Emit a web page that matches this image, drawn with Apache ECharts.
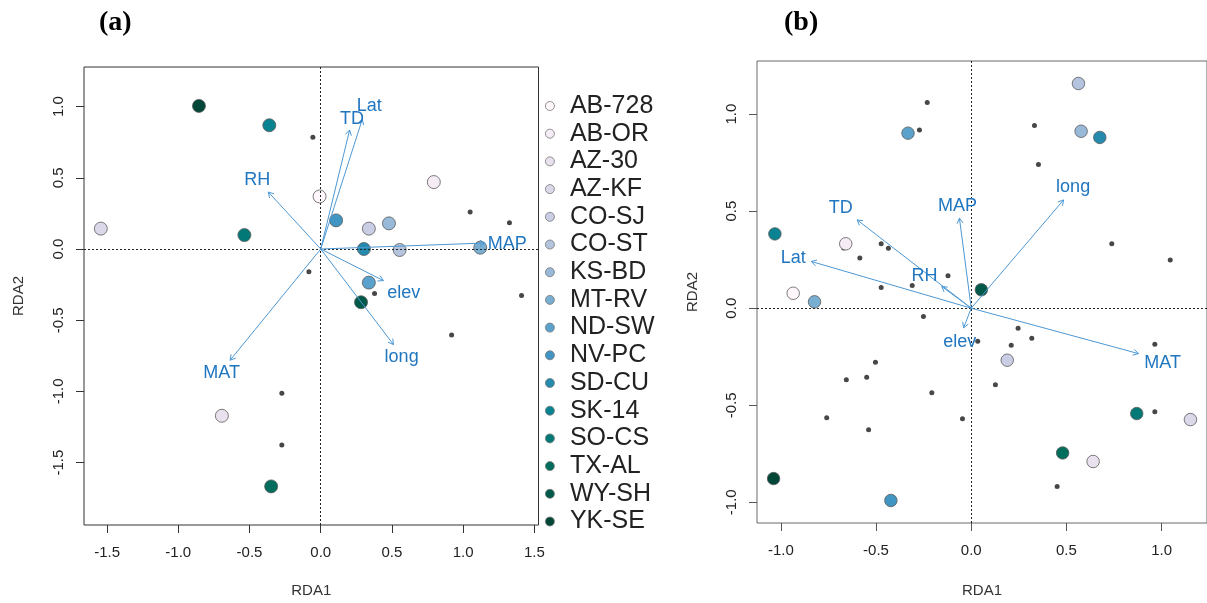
<!DOCTYPE html>
<html>
<head>
<meta charset="utf-8">
<title>RDA biplots</title>
<script src="https://cdn.jsdelivr.net/npm/echarts@6/dist/echarts.min.js"></script>
<style>
  html, body { margin: 0; padding: 0; background: #fff; }
  #chart { width: 1207px; height: 603px; }
</style>
</head>
<body>
<div id="chart"></div>
<script>
// Populations, in legend order
const popNames = ['AB-728', 'AB-OR', 'AZ-30', 'AZ-KF', 'CO-SJ', 'CO-ST', 'KS-BD', 'MT-RV',
                  'ND-SW', 'NV-PC', 'SD-CU', 'SK-14', 'SO-CS', 'TX-AL', 'WY-SH', 'YK-SE'];

// Panel (a): population scores on RDA1 / RDA2
const popA_x = [-0.008, 0.794, -0.694, -1.544, 0.338, 0.554, 0.479, 1.120,
                0.338, 0.108, 0.303, -0.361, -0.536, -0.348, 0.283, -0.855];
const popA_y = [0.369, 0.470, -1.171, 0.143, 0.143, -0.007, 0.180, 0.009,
                -0.236, 0.201, 0.000, 0.869, 0.098, -1.667, -0.374, 1.005];

// Panel (b): population scores on RDA1 / RDA2
const popB_x = [-0.935, -0.659, 0.640, 1.151, 0.189, 0.563, 0.577, -0.823,
                -0.332, -0.422, 0.675, -1.031, 0.869, 0.480, 0.053, -1.038];
const popB_y = [0.077, 0.332, -0.790, -0.574, -0.268, 1.158, 0.912, 0.033,
                0.902, -0.991, 0.880, 0.383, -0.543, -0.746, 0.095, -0.878];

// Small grey points (response scores)
const sppA_x = [-0.055, 1.049, 1.325, -0.083, 0.378, 1.410, 0.919, -0.273, -0.273];
const sppA_y = [0.784, 0.259, 0.184, -0.159, -0.313, -0.327, -0.603, -1.012, -1.376];

const sppB_x = [-0.231, -0.272, 0.332, 0.353, -0.473, -0.435, 0.738, -0.585, 1.045, -0.122,
                -0.473, -0.310, -0.251, -0.670, 0.034, 0.246, 0.210, 0.318, 0.964, -0.503,
                -0.656, -0.549, -0.207, 0.127, -0.759, -0.046, -0.539, 0.964, 0.451];
const sppB_y = [1.060, 0.918, 0.942, 0.741, 0.332, 0.309, 0.332, 0.259, 0.249, 0.167,
                0.107, 0.117, -0.043, 0.310, -0.170, -0.103, -0.191, -0.155, -0.186, -0.278,
                -0.369, -0.356, -0.436, -0.395, -0.565, -0.570, -0.627, -0.534, -0.919];

// Environmental vectors: arrow tips and label anchors (data units)
const envNames = ['Lat', 'TD', 'RH', 'MAP', 'elev', 'long', 'MAT'];
const envA_x   = [0.292, 0.203, -0.368, 1.154, 0.440, 0.511, -0.636];
const envA_y   = [0.911, 0.836, 0.400, 0.042, -0.222, -0.671, -0.781];
const envA_lx  = [0.341, 0.220, -0.446, 1.310, 0.583, 0.568, -0.696];
const envA_ly  = [1.006, 0.915, 0.481, 0.037, -0.308, -0.757, -0.874];

const envB_x   = [-0.840, -0.599, -0.155, -0.062, -0.040, 0.485, 0.878];
const envB_y   = [0.241, 0.455, 0.112, 0.464, -0.101, 0.558, -0.234];
const envB_lx  = [-0.935, -0.685, -0.246, -0.072, -0.060, 0.535, 1.005];
const envB_ly  = [0.256, 0.515, 0.165, 0.524, -0.175, 0.624, -0.280];

// Axis ticks
const ticksA_x = [-1.5, -1.0, -0.5, 0.0, 0.5, 1.0, 1.5];
const ticksA_y = [-1.5, -1.0, -0.5, 0.0, 0.5, 1.0];
const ticksB_x = [-1.0, -0.5, 0.0, 0.5, 1.0];
const ticksB_y = [-1.0, -0.5, 0.0, 0.5, 1.0];

// PuBuGn ramp stretched to 16 colours
const brewerStops = [[255,247,251],[236,226,240],[208,209,230],[166,189,219],[103,169,207],
                     [54,144,192],[2,129,138],[1,108,89],[1,70,54]];
function ramp(n) {
  const out = [];
  for (let i = 0; i < n; i++) {
    const t = i * (brewerStops.length - 1) / (n - 1);
    const k = Math.min(Math.floor(t), brewerStops.length - 2);
    const f = t - k;
    const c = brewerStops[k].map((v, j) => Math.round(v + (brewerStops[k + 1][j] - v) * f));
    out.push('rgb(' + c.join(',') + ')');
  }
  return out;
}
const popColors = ramp(popNames.length);

const FONT = 'Liberation Sans, Arial, sans-serif';
const arrowColor = '#4d98d4';
const arrowText = '#2176c0';

function zip(xs, ys) { return xs.map((x, i) => [x, ys[i]]); }

function axisX(gi, min, max, ticks, lineColor) {
  return {
    type: 'value', gridIndex: gi, min: min, max: max,
    name: 'RDA1', nameLocation: 'middle', nameGap: gi === 0 ? 58 : 60,
    nameTextStyle: { fontFamily: FONT, fontSize: 15, color: '#333' },
    splitLine: { show: false },
    axisLine: { show: false, onZero: false },
    axisTick: { show: true, customValues: ticks, length: 8, lineStyle: { color: lineColor } },
    axisLabel: { customValues: ticks, formatter: v => v.toFixed(1), margin: 20,
                 fontFamily: FONT, fontSize: 15, color: '#222' }
  };
}
function axisY(gi, min, max, ticks, lineColor) {
  return {
    type: 'value', gridIndex: gi, min: min, max: max,
    name: 'RDA2', nameLocation: 'middle', nameGap: gi === 0 ? 58 : 57,
    nameTextStyle: { fontFamily: FONT, fontSize: 15, color: '#333' },
    splitLine: { show: false },
    axisLine: { show: false, onZero: false },
    axisTick: { show: true, customValues: ticks, length: 8, lineStyle: { color: lineColor } },
    axisLabel: { customValues: ticks, formatter: v => v.toFixed(1), margin: 18, rotate: 90,
                 fontFamily: FONT, fontSize: 15, color: '#222' }
  };
}

function zeroLines(gi) {
  return {
    type: 'scatter', xAxisIndex: gi, yAxisIndex: gi, data: [], silent: true, z: 1,
    markLine: {
      silent: true, symbol: 'none', animation: false,
      label: { show: false },
      lineStyle: { type: [2, 2], color: '#222', width: 1 },
      data: [{ xAxis: 0 }, { yAxis: 0 }]
    }
  };
}

function greyDots(gi, xs, ys) {
  return {
    type: 'scatter', xAxisIndex: gi, yAxisIndex: gi, silent: true, z: 2,
    symbolSize: 5, itemStyle: { color: '#474747', opacity: 1 },
    data: zip(xs, ys)
  };
}

function envArrows(gi, xs, ys, lxs, lys) {
  return {
    type: 'custom', xAxisIndex: gi, yAxisIndex: gi, silent: true, z: 5,
    data: xs.map((x, i) => [x, ys[i], lxs[i], lys[i]]),
    renderItem: function (params, api) {
      const o = api.coord([0, 0]);
      const t = api.coord([api.value(0), api.value(1)]);
      const l = api.coord([api.value(2), api.value(3)]);
      const ang = Math.atan2(t[1] - o[1], t[0] - o[0]);
      const h = 6, s = Math.PI / 6;
      const p1 = [t[0] - h * Math.cos(ang - s), t[1] - h * Math.sin(ang - s)];
      const p2 = [t[0] - h * Math.cos(ang + s), t[1] - h * Math.sin(ang + s)];
      return {
        type: 'group',
        children: [
          { type: 'line', shape: { x1: o[0], y1: o[1], x2: t[0], y2: t[1] },
            style: { stroke: arrowColor, lineWidth: 1 } },
          { type: 'polyline', shape: { points: [p1, t, p2] },
            style: { stroke: arrowColor, fill: null, lineWidth: 1 } },
          { type: 'text', x: l[0], y: l[1],
            style: { text: envNames[params.dataIndex], fill: arrowText,
                     font: '18px ' + FONT, align: 'center', verticalAlign: 'middle' } }
        ]
      };
    }
  };
}

const series = [zeroLines(0), zeroLines(1),
                greyDots(0, sppA_x, sppA_y), greyDots(1, sppB_x, sppB_y)];

popNames.forEach((name, i) => {
  const style = { color: popColors[i], borderColor: '#5a5a5a', borderWidth: 0.8, opacity: 1 };
  series.push({ type: 'scatter', name: name, xAxisIndex: 0, yAxisIndex: 0, z: 3,
                symbolSize: 13, itemStyle: style, data: [[popA_x[i], popA_y[i]]] });
  series.push({ type: 'scatter', name: name, xAxisIndex: 1, yAxisIndex: 1, z: 3,
                symbolSize: 12.5, itemStyle: style, data: [[popB_x[i], popB_y[i]]] });
});

series.push(envArrows(0, envA_x, envA_y, envA_lx, envA_ly));
series.push(envArrows(1, envB_x, envB_y, envB_lx, envB_ly));

const option = {
  animation: false,
  backgroundColor: '#fff',
  title: [
    { text: '(a)', left: 94, top: 4,
      textStyle: { fontFamily: 'Liberation Serif, Times New Roman, serif', fontWeight: 'bold', fontSize: 28, color: '#000' } },
    { text: '(b)', left: 779, top: 4,
      textStyle: { fontFamily: 'Liberation Serif, Times New Roman, serif', fontWeight: 'bold', fontSize: 28, color: '#000' } }
  ],
  legend: {
    data: popNames,
    orient: 'vertical',
    left: 540, top: 88.5,
    itemWidth: 30, itemHeight: 9, itemGap: 2.7,
    icon: 'circle',
    selectedMode: false,
    itemStyle: { borderColor: '#777', borderWidth: 0.8 },
    textStyle: { fontFamily: FONT, fontSize: 25, lineHeight: 25, color: '#222' }
  },
  grid: [
    { left: 84, top: 67, width: 454.5, height: 459, show: true, borderColor: '#333', borderWidth: 1,
      backgroundColor: 'transparent' },
    { left: 757, top: 61, width: 457, height: 462, show: true, borderColor: '#6a6a6a', borderWidth: 1,
      backgroundColor: 'transparent' }
  ],
  xAxis: [axisX(0, -1.662, 1.529, ticksA_x, '#333'), axisX(1, -1.125, 1.238, ticksB_x, '#555')],
  yAxis: [axisY(0, -1.938, 1.278, ticksA_y, '#333'), axisY(1, -1.107, 1.274, ticksB_y, '#555')],
  series: series
};

const chart = echarts.init(document.getElementById('chart'), null, { renderer: 'canvas' });
chart.setOption(option);
</script>
</body>
</html>
